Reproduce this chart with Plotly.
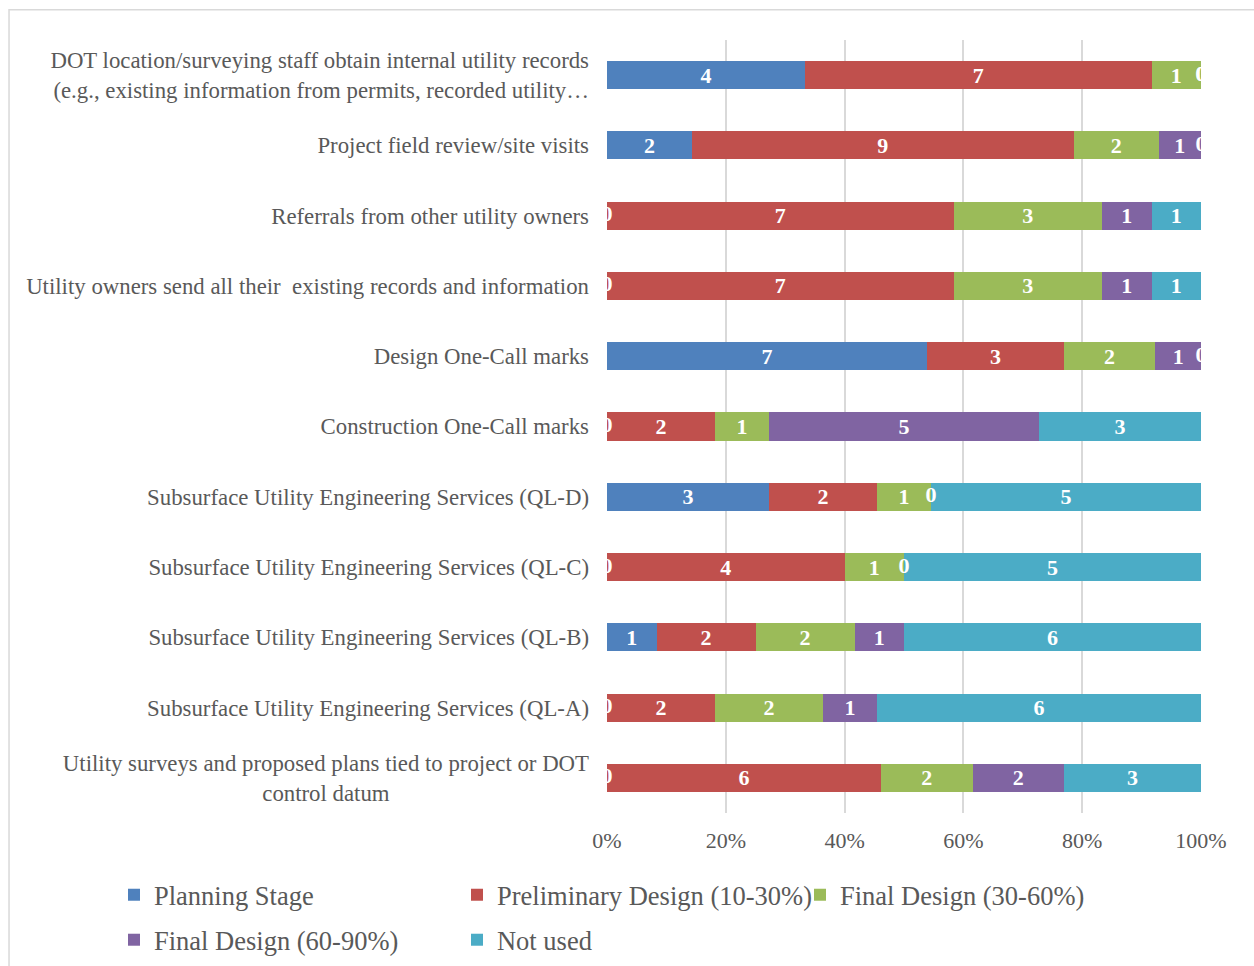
import plotly.graph_objects as go

NB = "\u00a0"
categories = [
    "DOT location/surveying staff obtain internal utility records<br>(e.g., existing information from permits, recorded utility…",
    "Project field review/site visits",
    "Referrals from other utility owners",
    "Utility owners send all their" + NB + " existing records and information",
    "Design One-Call marks",
    "Construction One-Call marks",
    "Subsurface Utility Engineering Services (QL-D)",
    "Subsurface Utility Engineering Services (QL-C)",
    "Subsurface Utility Engineering Services (QL-B)",
    "Subsurface Utility Engineering Services (QL-A)",
    "Utility surveys and proposed plans tied to project or DOT<br>control datum" + NB * 35,
]

series_names = ["Planning Stage", "Preliminary Design (10-30%)", "Final Design (30-60%)",
                "Final Design (60-90%)", "Not used"]
planning = [4, 2, 0, 0, 7, 0, 3, 0, 1, 0, 0]
preliminary = [7, 9, 7, 7, 3, 2, 2, 4, 2, 2, 6]
final_30_60 = [1, 2, 3, 3, 2, 1, 1, 1, 2, 2, 2]
final_60_90 = [0, 1, 1, 1, 1, 5, 0, 0, 1, 1, 2]
not_used = [0, 0, 1, 1, 0, 3, 5, 5, 6, 6, 3]
colors = ["#4F81BD", "#C0504D", "#9BBB59", "#8064A2", "#4BACC6"]

all_series = [planning, preliminary, final_30_60, final_60_90, not_used]

FONT = "Liberation Serif, Times New Roman, serif"
GREY = "#595959"

fig = go.Figure()
for idx, (name, vals, col) in enumerate(zip(series_names, all_series, colors)):
    fig.add_trace(go.Bar(
        y=categories, x=vals, name=name, orientation="h",
        marker=dict(color=col, line=dict(width=0)),
        text=[str(v) if v else "" for v in vals],
        textposition="inside", insidetextanchor="middle", constraintext="none",
        textangle=0,
        textfont=dict(family=FONT, size=22, color="white", weight="bold"),
        width=0.4,
        legend="legend" if idx < 3 else "legend2",
    ))

# zero-value data labels (shown at segment boundary, like the original)
zx, zy = [], []
for i, cat in enumerate(categories):
    total = sum(s[i] for s in all_series)
    cum = 0
    for s in all_series:
        if s[i] == 0:
            zx.append(cum / total * 100)
            zy.append(cat)
        cum += s[i]
fig.add_trace(go.Scatter(
    x=zx, y=zy, mode="text", text=["0"] * len(zx), showlegend=False,
    textfont=dict(family=FONT, size=22, color="white", weight="bold"),
    cliponaxis=True, hoverinfo="skip",
))

fig.update_layout(
    barmode="stack", barnorm="percent",
    width=1254, height=966,
    margin=dict(l=607, r=53, t=40, b=153, autoexpand=False),
    paper_bgcolor="white", plot_bgcolor="white",
    font=dict(family=FONT, color=GREY, size=22),
    xaxis=dict(range=[0, 100], dtick=20, ticksuffix="%", showgrid=True,
               gridcolor="#D9D9D9", gridwidth=1.5, zeroline=False, showline=False,
               tickfont=dict(size=22, color=GREY), ticklabelstandoff=12,
               automargin=False),
    yaxis=dict(range=[len(categories) - 0.5, -0.5], showgrid=False, showline=False,
               tickfont=dict(size=22.8, color=GREY), ticklabelstandoff=17,
               automargin=False),
    legend=dict(orientation="h", traceorder="normal", x=-0.830, xanchor="left",
                y=-0.1061, yanchor="middle",
                entrywidth=298, entrywidthmode="pixels",
                font=dict(size=26.5, color=GREY, family=FONT), itemclick=False),
    legend2=dict(orientation="h", traceorder="normal", x=-0.830, xanchor="left",
                 y=-0.1643, yanchor="middle",
                 entrywidth=298, entrywidthmode="pixels",
                 font=dict(size=26.5, color=GREY, family=FONT), itemclick=False),
    shapes=[dict(type="rect", xref="paper", yref="paper",
                 x0=-1.0067, x1=1.2, y0=-0.3, y1=1.039,
                 line=dict(color="#D9D9D9", width=1.5), fillcolor="rgba(0,0,0,0)",
                 layer="below")],
)

fig.write_html("out.html")
